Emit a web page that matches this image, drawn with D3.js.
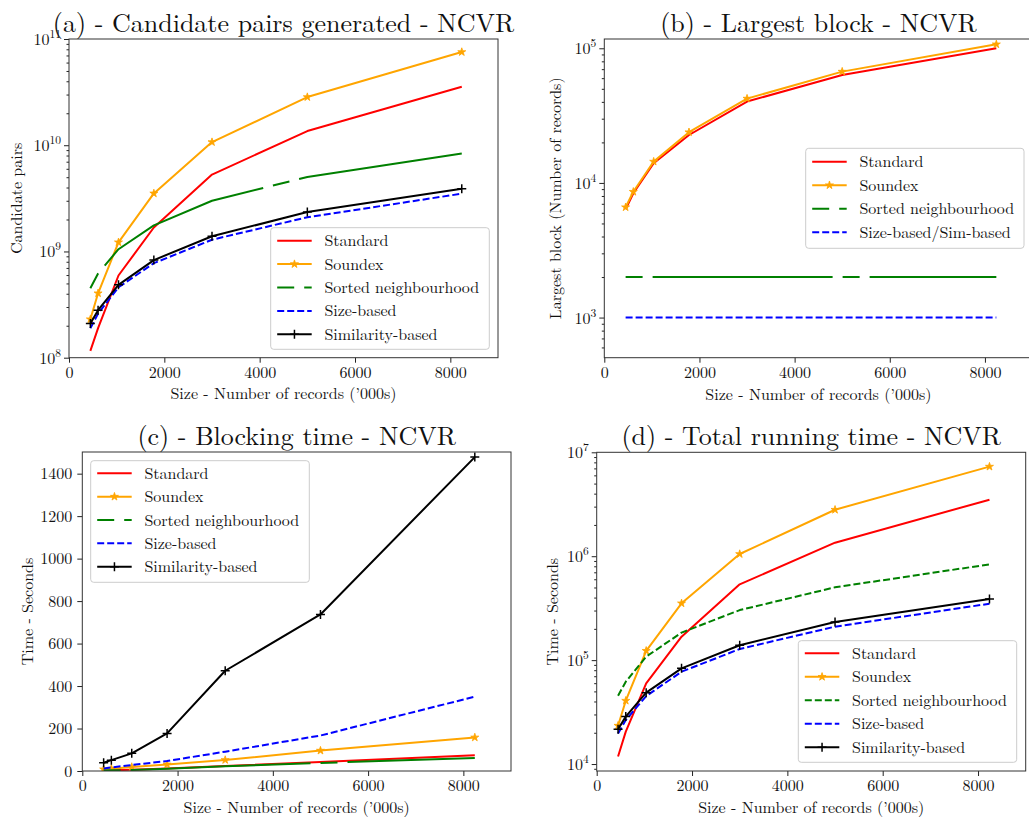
<!DOCTYPE html>
<html>
<head>
<meta charset="utf-8">
<script src="https://cdn.jsdelivr.net/npm/d3@7"></script>
<style>
  body { margin: 0; background: #fff; }
  svg { display: block; }
</style>
</head>
<body>
<script>
// Dataset sizes (thousands of records) used in every experiment
const sizes = [448, 610, 1038, 1780, 3000, 5000, 8240];
const sizeTicks = [0, 2000, 4000, 6000, 8000];

// (a) Candidate pairs generated
const pairsStandard   = [1.16e8, 1.9e8, 5.94e8, 1.68e9, 5.29e9, 1.36e10, 3.55e10];
const pairsSoundex    = [2.3e8, 4.04e8, 1.22e9, 3.52e9, 1.07e10, 2.84e10, 7.54e10];
const pairsSorted     = [4.5e8, 6.2e8, 1.05e9, 1.76e9, 3.0e9, 5.03e9, 8.35e9];
const pairsSize       = [1.89e8, 2.6e8, 4.6e8, 7.76e8, 1.29e9, 2.1e9, 3.5e9];
const pairsSimilarity = [2.1e8, 2.8e8, 4.85e8, 8.3e8, 1.39e9, 2.35e9, 3.9e9];

// (b) Largest block (number of records)
const largestStandard = [6370, 8380, 14000, 22700, 40200, 63400, 100000];
const largestSoundex  = [6600, 8600, 14400, 23800, 42300, 67100, 107000];
const largestSorted   = [2000, 2000, 2000, 2000, 2000, 2000, 2000];
const largestSizeSim  = [1000, 1000, 1000, 1000, 1000, 1000, 1000];

// (c) Blocking time (seconds)
const blockStandard   = [2, 3, 6, 12, 24, 42, 74];
const blockSoundex    = [8, 11, 19, 31, 52, 96, 158];
const blockSorted     = [2, 3, 5, 11, 22, 38, 61];
const blockSize       = [12, 17, 28, 47, 91, 167, 350];
const blockSimilarity = [39, 51, 83, 177, 472, 737, 1478];
const blockTicks      = [0, 200, 400, 600, 800, 1000, 1200, 1400];

// (d) Total running time (seconds)
const totalStandard   = [1.18e4, 2.05e4, 5.98e4, 1.68e5, 5.36e5, 1.35e6, 3.5e6];
const totalSoundex    = [2.34e4, 4.07e4, 1.23e5, 3.52e5, 1.05e6, 2.8e6, 7.28e6];
const totalSorted     = [4.55e4, 6.2e4, 1.08e5, 1.84e5, 3.03e5, 5.02e5, 8.35e5];
const totalSize       = [1.97e4, 2.65e4, 4.51e4, 7.74e4, 1.28e5, 2.1e5, 3.49e5];
const totalSimilarity = [2.16e4, 2.86e4, 4.86e4, 8.33e4, 1.39e5, 2.33e5, 3.87e5];

const methodNames  = ["Standard", "Soundex", "Sorted neighbourhood", "Size-based", "Similarity-based"];
const largestNames = ["Standard", "Soundex", "Sorted neighbourhood", "Size-based/Sim-based"];

// ---------------------------------------------------------------------------
const FONT = "Latin Modern Roman";
const TEXT = "#111";
const STYLES = {
  standard:    { color: "#ff0000" },
  soundex:     { color: "#ffa500", marker: "star" },
  sortedLong:  { color: "#008000", dash: "17,10,180,10" },
  sortedShort: { color: "#008000", dash: "7,3" },
  size:        { color: "#0000ff", dash: "7,3" },
  similarity:  { color: "#000000", marker: "plus" }
};

const svg = d3.select("body").append("svg")
  .attr("width", 1029).attr("height", 822)
  .attr("font-family", FONT);

function label(parent, size) {
  return parent.append("text").attr("font-family", FONT).attr("font-size", size).attr("fill", TEXT);
}

const starPath = d3.symbol(d3.symbolStar, 20)();

function drawMarker(g, kind, cx, cy, color) {
  if (kind === "star") {
    g.append("path").attr("d", starPath)
      .attr("transform", `translate(${cx},${cy})`)
      .attr("fill", color).attr("stroke", color).attr("stroke-width", 0.8);
  } else if (kind === "plus") {
    const r = 4.5;
    g.append("path")
      .attr("d", `M${cx - r},${cy}H${cx + r}M${cx},${cy - r}V${cy + r}`)
      .attr("stroke", color).attr("stroke-width", 1.5).attr("fill", "none");
  }
}

let clipId = 0;

function panel(cfg) {
  const { left, right, top, bottom, yDomain, log, series, title, ylabel, legend } = cfg;
  const x = d3.scaleLinear().domain([0, 9000]).range([left, right]);
  const y = (log ? d3.scaleLog() : d3.scaleLinear()).domain(yDomain).range([bottom, top]);
  const g = svg.append("g");

  const cid = "clip" + (clipId++);
  g.append("clipPath").attr("id", cid)
    .append("rect").attr("x", left).attr("y", top)
    .attr("width", right - left).attr("height", bottom - top);

  const plot = g.append("g").attr("clip-path", `url(#${cid})`);
  const line = d3.line().x(d => x(d[0])).y(d => y(d[1]));

  series.forEach(s => {
    const st = STYLES[s.style];
    const pts = s.values.map((v, i) => [sizes[i], v]);
    plot.append("path").datum(pts)
      .attr("d", line)
      .attr("fill", "none")
      .attr("stroke", st.color)
      .attr("stroke-width", 2)
      .attr("stroke-linejoin", "round")
      .attr("stroke-dasharray", st.dash || null);
    if (st.marker) pts.forEach(p => drawMarker(plot, st.marker, x(p[0]), y(p[1]), st.color));
  });

  // x axis
  const xa = g.append("g").attr("transform", `translate(0,${bottom})`)
    .call(d3.axisBottom(x).tickValues(sizeTicks).tickSize(5).tickPadding(4).tickFormat(d3.format("d")));
  xa.select(".domain").remove();
  xa.attr("font-family", FONT).attr("font-size", 16).attr("color", "#222");
  xa.selectAll("text").attr("fill", TEXT);

  // y axis
  const ya = g.append("g").attr("transform", `translate(${left},0)`);
  if (log) {
    const lo = Math.ceil(Math.log10(yDomain[0]) - 1e-9), hi = Math.floor(Math.log10(yDomain[1]) + 1e-9);
    const majors = d3.range(lo, hi + 1).map(e => Math.pow(10, e));
    const minors = [];
    for (let e = lo - 1; e <= hi; e++)
      for (let m = 2; m <= 9; m++) {
        const v = m * Math.pow(10, e);
        if (v >= yDomain[0] && v <= yDomain[1]) minors.push(v);
      }
    ya.call(d3.axisLeft(y).tickValues(majors).tickSize(5).tickPadding(3).tickFormat(() => ""));
    ya.selectAll(".tick text").each(function (d) {
      const t = d3.select(this).attr("dy", null).attr("y", 5.5).attr("fill", TEXT);
      t.append("tspan").text("10");
      t.append("tspan").attr("dy", -7).attr("font-size", 11.5).text(Math.round(Math.log10(d)));
    });
    const ym = g.append("g").attr("transform", `translate(${left},0)`)
      .call(d3.axisLeft(y).tickValues(minors).tickSize(2.5).tickFormat(() => ""));
    ym.select(".domain").remove();
    ym.attr("color", "#222");
  } else {
    ya.call(d3.axisLeft(y).tickValues(cfg.yTicks).tickSize(5).tickPadding(5).tickFormat(d3.format("d")));
    ya.selectAll("text").attr("fill", TEXT);
  }
  ya.select(".domain").remove();
  ya.attr("font-family", FONT).attr("font-size", 16).attr("color", "#222");

  // frame
  g.append("rect").attr("x", left).attr("y", top)
    .attr("width", right - left).attr("height", bottom - top)
    .attr("fill", "none").attr("stroke", "#333").attr("stroke-width", 1);

  // titles and labels
  const cx = (left + right) / 2;
  label(g, 26).attr("x", cx).attr("y", cfg.titleY)
    .attr("text-anchor", "middle").text(title);
  label(g, 16).attr("x", cx).attr("y", cfg.xlabelY)
    .attr("text-anchor", "middle").text("Size - Number of records (\u2019000s)");
  label(g, 16)
    .attr("transform", `translate(${cfg.ylabelX},${(top + bottom) / 2}) rotate(-90)`)
    .attr("text-anchor", "middle").text(ylabel);

  // legend
  const lg = g.append("g");
  lg.append("rect")
    .attr("x", legend.x).attr("y", legend.y)
    .attr("width", legend.w).attr("height", legend.h)
    .attr("rx", 3).attr("fill", "#fff").attr("fill-opacity", 0.8)
    .attr("stroke", "#cccccc").attr("stroke-width", 1);
  series.forEach((s, i) => {
    const st = STYLES[s.style];
    const yy = legend.y + legend.first + i * legend.step;
    const x0 = legend.x + 6.5, x1 = x0 + 34.5;
    lg.append("line").attr("x1", x0).attr("x2", x1).attr("y1", yy).attr("y2", yy)
      .attr("stroke", st.color).attr("stroke-width", 2)
      .attr("stroke-dasharray", st.dash || null);
    if (st.marker) drawMarker(lg, st.marker, (x0 + x1) / 2, yy, st.color);
    label(lg, 16).attr("x", x1 + 12.7).attr("y", yy + 5.5).text(s.name);
  });
}

// (a)
panel({
  left: 69, right: 498, top: 39, bottom: 357.7,
  yDomain: [1e8, 1e11], log: true,
  title: "(a) - Candidate pairs generated - NCVR", titleY: 32.3,
  xlabelY: 399, ylabel: "Candidate pairs", ylabelX: 22,
  series: [
    { name: methodNames[0], style: "standard", values: pairsStandard },
    { name: methodNames[1], style: "soundex", values: pairsSoundex },
    { name: methodNames[2], style: "sortedLong", values: pairsSorted },
    { name: methodNames[3], style: "size", values: pairsSize },
    { name: methodNames[4], style: "similarity", values: pairsSimilarity }
  ],
  legend: { x: 270.7, y: 227.7, w: 218.6, h: 121.6, first: 13, step: 23.4 }
});

// (b)
panel({
  left: 604.3, right: 1032.5, top: 39, bottom: 357.7,
  yDomain: [Math.pow(10, 2.702), Math.pow(10, 5.069)], log: true,
  title: "(b) - Largest block - NCVR", titleY: 31.7,
  xlabelY: 399.5, ylabel: "Largest block (Number of records)", ylabelX: 560.5,
  series: [
    { name: largestNames[0], style: "standard", values: largestStandard },
    { name: largestNames[1], style: "soundex", values: largestSoundex },
    { name: largestNames[2], style: "sortedLong", values: largestSorted },
    { name: largestNames[3], style: "size", values: largestSizeSim }
  ],
  legend: { x: 805.7, y: 148.3, w: 218.3, h: 100, first: 13.4, step: 23.5 }
});

// (c)
panel({
  left: 82.3, right: 511, top: 452, bottom: 771,
  yDomain: [0, 1502], log: false, yTicks: blockTicks,
  title: "(c) - Blocking time - NCVR", titleY: 445,
  xlabelY: 812.5, ylabel: "Time - Seconds", ylabelX: 32.5,
  series: [
    { name: methodNames[0], style: "standard", values: blockStandard },
    { name: methodNames[1], style: "soundex", values: blockSoundex },
    { name: methodNames[2], style: "sortedLong", values: blockSorted },
    { name: methodNames[3], style: "size", values: blockSize },
    { name: methodNames[4], style: "similarity", values: blockSimilarity }
  ],
  legend: { x: 90.7, y: 460.7, w: 218.6, h: 121.6, first: 12.6, step: 23.35 }
});

// (d)
panel({
  left: 596.7, right: 1025.7, top: 452.3, bottom: 771,
  yDomain: [Math.pow(10, 3.933), 1e7], log: true,
  title: "(d) - Total running time - NCVR", titleY: 445,
  xlabelY: 812.5, ylabel: "Time - Seconds", ylabelX: 558,
  series: [
    { name: methodNames[0], style: "standard", values: totalStandard },
    { name: methodNames[1], style: "soundex", values: totalSoundex },
    { name: methodNames[2], style: "sortedShort", values: totalSorted },
    { name: methodNames[3], style: "size", values: totalSize },
    { name: methodNames[4], style: "similarity", values: totalSimilarity }
  ],
  legend: { x: 798.3, y: 640.7, w: 218.4, h: 121.6, first: 12.6, step: 23.5 }
});
</script>
</body>
</html>
